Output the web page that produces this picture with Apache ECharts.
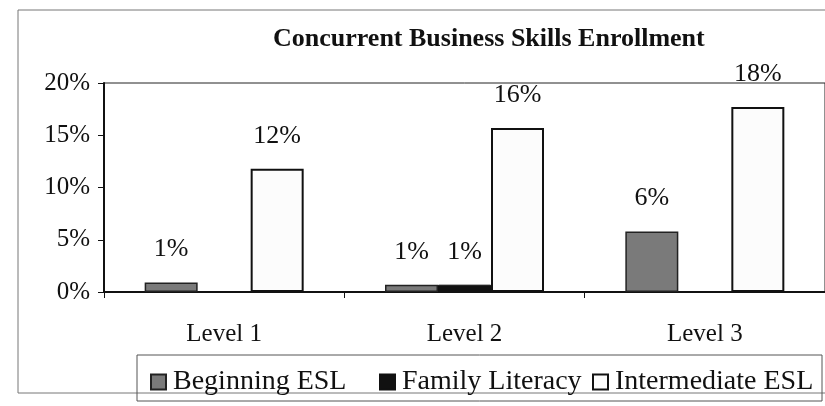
<!DOCTYPE html>
<html>
<head>
<meta charset="utf-8">
<script src="https://cdn.jsdelivr.net/npm/echarts@6/dist/echarts.min.js"></script>
<style>
  html, body { margin: 0; padding: 0; background: #fff; }
  #chart { width: 825px; height: 406px; }
</style>
</head>
<body>
<div id="chart"></div>
<script>
const categories = ['Level 1', 'Level 2', 'Level 3']
const seriesNames = ['Beginning ESL', 'Family Literacy', 'Intermediate ESL']
const beginningEsl = [0.9, 0.7, 5.8]
const familyLiteracy = [null, 0.7, null]
const intermediateEsl = [11.8, 15.7, 17.7]
const yTicks = [0, 5, 10, 15, 20]

const FONT = '"Liberation Serif", "DejaVu Serif", serif'

const label = {
  show: true,
  position: 'top',
  distance: 20,
  fontFamily: FONT,
  fontSize: 26,
  color: '#111',
  formatter: (p) => (p.value == null ? '' : Math.round(p.value) + '%')
}

// one legend per item so each entry sits where the original has it
const legendLefts = [145, 374, 587]
const legends = seriesNames.map((name, i) => ({
  left: legendLefts[i],
  top: 363,
  icon: 'rect',
  itemWidth: 15,
  itemHeight: 15,
  itemGap: 8,
  textStyle: { fontFamily: FONT, fontSize: 28, color: '#111', padding: [0, 0, 0, 2] },
  data: [name]
}))

const chart = echarts.init(document.getElementById('chart'))

const option = {
  backgroundColor: '#fff',
  animation: false,
  title: {
    text: 'Concurrent Business Skills Enrollment',
    left: 268,
    top: 21,
    textStyle: { fontFamily: FONT, fontSize: 26, fontWeight: 'bold', color: '#111' }
  },
  graphic: [
    {
      type: 'rect',
      shape: { x: 18, y: 10, width: 820, height: 383 },
      style: { fill: 'none', stroke: '#777', lineWidth: 1 },
      silent: true
    },
    {
      type: 'rect',
      shape: { x: 137, y: 355, width: 685, height: 46 },
      style: { fill: 'none', stroke: '#555', lineWidth: 1 },
      silent: true
    }
  ],
  legend: legends,
  grid: {
    left: 104,
    right: 0,
    top: 83,
    bottom: 114,
    show: true,
    borderColor: '#222',
    borderWidth: 1
  },
  xAxis: {
    type: 'category',
    data: categories,
    axisLine: { lineStyle: { color: '#111', width: 2 } },
    axisTick: { show: true, length: 6, lineStyle: { color: '#111' } },
    axisLabel: { fontFamily: FONT, fontSize: 25, color: '#111', margin: 30 }
  },
  yAxis: {
    type: 'value',
    min: yTicks[0],
    max: yTicks[yTicks.length - 1],
    interval: 5,
    splitLine: { show: false },
    axisLine: { show: true, lineStyle: { color: '#111', width: 2 } },
    axisTick: { show: true, length: 6, lineStyle: { color: '#111' } },
    axisLabel: {
      fontFamily: FONT,
      fontSize: 25,
      color: '#111',
      margin: 14,
      formatter: (v) => v + '%'
    }
  },
  series: [
    {
      name: seriesNames[0],
      type: 'bar',
      data: beginningEsl,
      barWidth: 53,
      barGap: '0%',
      itemStyle: { color: '#7a7a7a', borderColor: '#222', borderWidth: 1.5 },
      label
    },
    {
      name: seriesNames[1],
      type: 'bar',
      data: familyLiteracy,
      barWidth: 53,
      barGap: '0%',
      itemStyle: { color: '#111', borderColor: '#111', borderWidth: 1 },
      label
    },
    {
      name: seriesNames[2],
      type: 'bar',
      data: intermediateEsl,
      barWidth: 53,
      barGap: '0%',
      itemStyle: { color: '#fcfcfc', borderColor: '#111', borderWidth: 2 },
      label
    }
  ]
}

chart.setOption(option)
</script>
</body>
</html>
